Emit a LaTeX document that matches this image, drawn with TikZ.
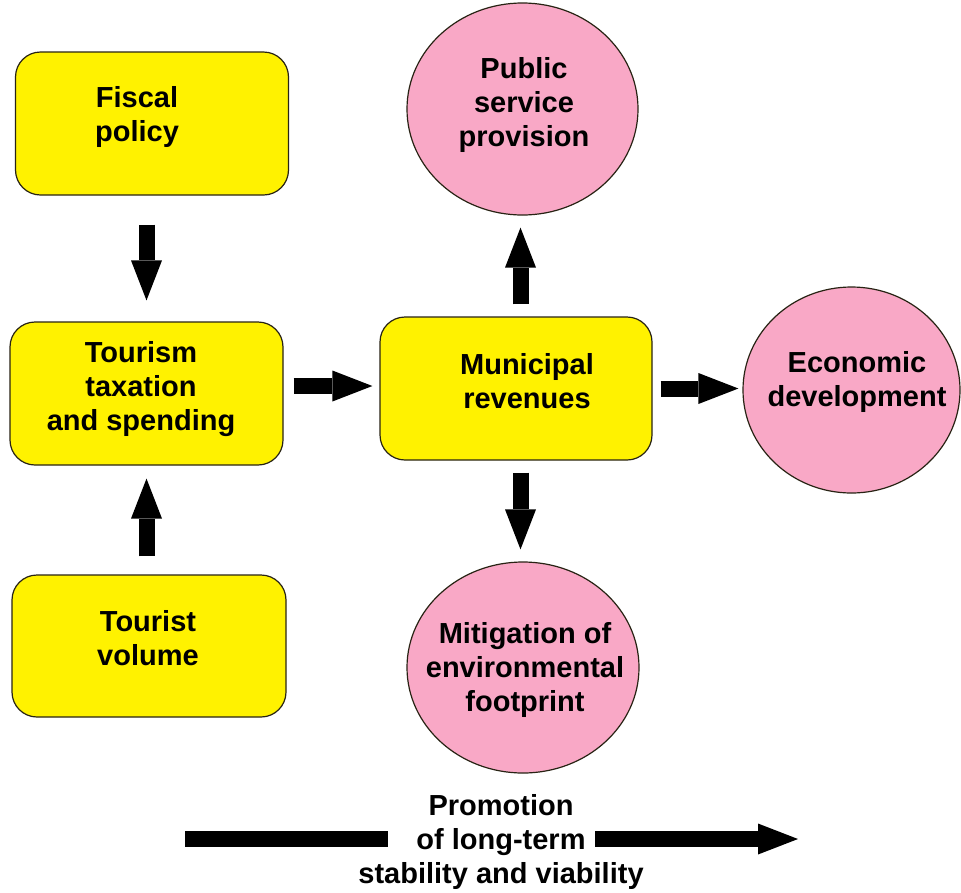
\documentclass[tikz,border=0pt]{standalone}
\usepackage{fontspec}
\setmainfont{Liberation Sans}
\usetikzlibrary{arrows.meta,shapes.geometric}
\definecolor{boxyellow}{RGB}{255,242,0}
\definecolor{ovalpink}{RGB}{249,168,198}
\definecolor{edgeline}{RGB}{40,35,20}

\begin{document}
\begin{tikzpicture}[x=1pt,y=1pt,
  box/.style={draw=edgeline, line width=1.2pt, fill=boxyellow, rounded corners=25pt,
              minimum width=273pt, minimum height=143pt, inner sep=0pt},
  oval/.style={draw=edgeline, line width=1.2pt, fill=ovalpink, ellipse, inner sep=0pt},
  lbl/.style={anchor=north, inner sep=0pt, align=center,
              font=\fontsize{29}{34}\selectfont\bfseries},
  flow/.style={line width=16pt, -{Triangle[length=40pt,width=31pt,line width=0pt]}},
  bar/.style={line width=16pt},
]
% canvas
\fill[white] (0,0) rectangle (961,-892);
\useasboundingbox (0,0) rectangle (961,-892);

% yellow process boxes
\node[box] (fiscal) at (152,-123.5) {};
\node[box] (tour)   at (146.5,-393.5) {};
\node[box, minimum width=274pt, minimum height=142pt] (volume) at (149,-646) {};
\node[box, minimum width=272pt] (muni) at (516,-388.5) {};

% pink outcome ovals
\node[oval, minimum width=231pt, minimum height=212pt] (public) at (522.5,-109) {};
\node[oval, minimum width=217pt, minimum height=206pt] (econ)   at (851.5,-390) {};
\node[oval, minimum width=232pt, minimum height=211pt] (mitig)  at (523,-667.5) {};

% labels
\node[lbl] (fiscal-t) at (137,-86)  {Fiscal\\policy};
\node[lbl] (tour-t)   at (141,-341) {Tourism\\taxation\\and spending};
\node[lbl] (volume-t) at (148,-610) {Tourist\\volume};
\node[lbl] (muni-t)   at (527,-353) {Municipal\\revenues};
\node[lbl] (public-t) at (524,-57)  {Public\\service\\provision};
\node[lbl] (econ-t)   at (857,-351) {Economic\\development};
\node[lbl] (mitig-t)  at (525,-622) {Mitigation of\\environmental\\footprint};
\node[lbl] (promo-t)  at (501,-794) {Promotion\\of long-term\\stability and viability};

% block arrows between the boxes
\draw[flow, shorten <=29pt, shorten >=21pt] (fiscal.south -| tour.north) -- (tour.north);
\draw[flow, shorten <=18pt, shorten >=13pt] (volume.north -| tour.south) -- (tour.south);
\path ([yshift=7.5pt]tour.east) coordinate (tourout);
\draw[flow, shorten <=10pt, shorten >=7pt] (tourout) -- (tourout -| muni.west);
\path ([xshift=4.5pt]muni.north) coordinate (muniup);
\draw[flow, shorten <=12pt, shorten >=12pt] (muniup) -- (muniup |- public.south);
\path ([xshift=4.5pt]muni.south) coordinate (munidown);
\draw[flow, shorten <=12pt, shorten >=12pt] (munidown) -- (munidown |- mitig.north);
\draw[flow, shorten <=8pt, shorten >=4pt] (muni.east) -- (muni.east -| econ.west);

% long arrow broken by the bottom caption
\coordinate (longstart) at (185,-839);
\coordinate (longgap1)  at (388,-839);
\coordinate (longgap2)  at (595,-839);
\coordinate (longend)   at (798,-839);
\draw[bar] (longstart) -- (longgap1);
\draw[flow] (longgap2) -- (longend);
\end{tikzpicture}
\end{document}
